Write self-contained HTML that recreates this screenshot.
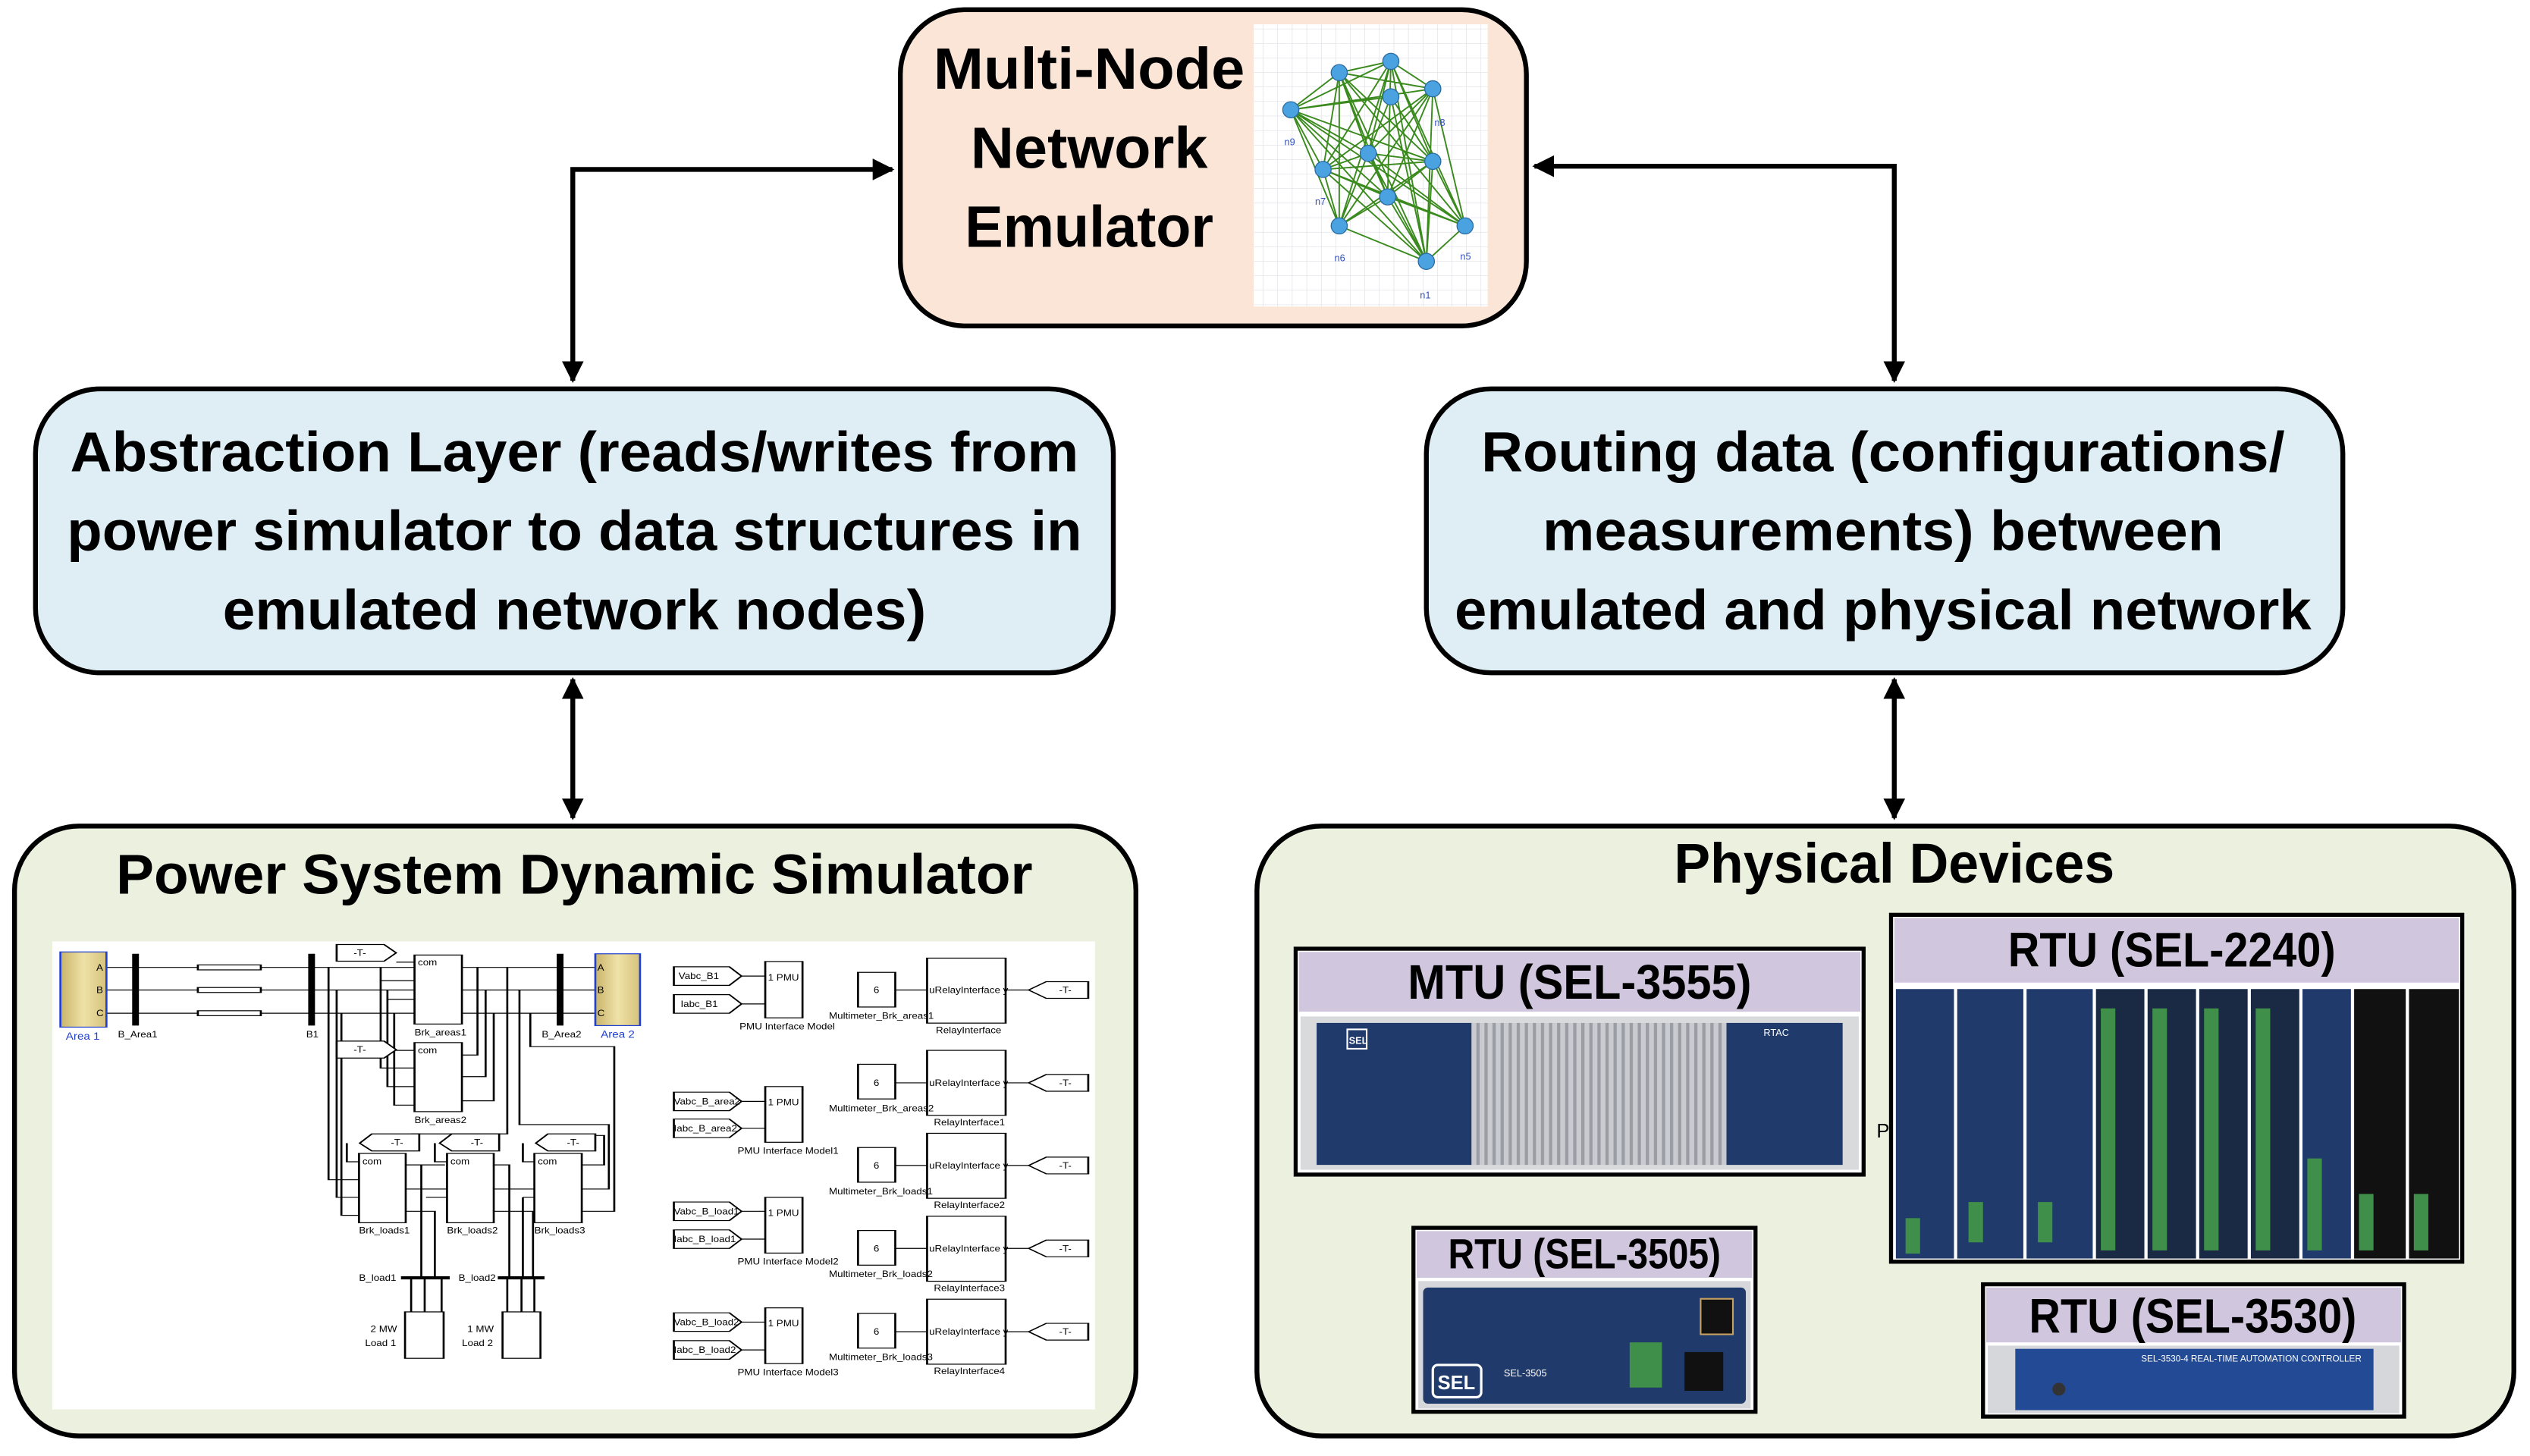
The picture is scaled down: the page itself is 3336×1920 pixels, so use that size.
<!DOCTYPE html>
<html><head><meta charset="utf-8"><style>html,body{margin:0;padding:0;background:#fff}svg{display:block}</style></head>
<body>
<svg width="3336" height="1920" viewBox="0 0 1568 902.4" xmlns="http://www.w3.org/2000/svg" font-family="Liberation Sans, sans-serif">
<defs>
<marker id="ah" viewBox="0 0 10 10" refX="9" refY="5" markerWidth="4.5" markerHeight="4.5" orient="auto-start-reverse"><path d="M0,0 L10,5 L0,10 z" fill="#000"/></marker>
<linearGradient id="gold" x1="0" y1="0" x2="1" y2="0"><stop offset="0" stop-color="#c9b46a"/><stop offset="0.5" stop-color="#efe2a8"/><stop offset="1" stop-color="#d6c27c"/></linearGradient>
<pattern id="grid" width="9" height="9" patternUnits="userSpaceOnUse"><path d="M9,0 V9 H0" fill="none" stroke="#d8d8e0" stroke-width="0.5"/></pattern>
<pattern id="fins" width="5" height="10" patternUnits="userSpaceOnUse"><rect width="5" height="10" fill="#c9cbd0"/><rect width="2" height="10" fill="#9a9da3"/></pattern>
</defs>
<rect width="1568" height="902.4" fill="#fff"/>

<!-- arrows -->
<g stroke="#000" stroke-width="3" fill="none">
<path d="M355,236 V105 H553" marker-start="url(#ah)" marker-end="url(#ah)"/>
<path d="M951,103 H1174 V236" marker-start="url(#ah)" marker-end="url(#ah)"/>
<path d="M355,421 V507" marker-start="url(#ah)" marker-end="url(#ah)"/>
<path d="M1174,421 V507" marker-start="url(#ah)" marker-end="url(#ah)"/>
</g>

<!-- top box -->
<rect x="558" y="6" width="388" height="196" rx="40" fill="#fbe5d6" stroke="#000" stroke-width="3"/>
<g font-weight="bold" font-size="36" text-anchor="middle" fill="#000">
<text x="675" y="55" textLength="193" lengthAdjust="spacingAndGlyphs">Multi-Node</text>
<text x="675" y="104" textLength="147" lengthAdjust="spacingAndGlyphs">Network</text>
<text x="675" y="153" textLength="154" lengthAdjust="spacingAndGlyphs">Emulator</text>
</g>
<rect x="777" y="15" width="145" height="175" fill="#fff"/>
<rect x="777" y="15" width="145" height="175" fill="url(#grid)"/>
<g stroke="#3a8a1e" stroke-width="0.9" fill="none">
<path d="M800,68 L830,45 L862,38 L888,55 L908,140 L884,162 L830,140 L820,105 L800,68 M800,68 L862,38 M800,68 L888,55 M800,68 L848,95 M800,68 L888,100 M800,68 L860,122 M800,68 L830,140 M800,68 L908,140 M800,68 L884,162 M830,45 L888,55 M830,45 L820,105 M830,45 L848,95 M830,45 L888,100 M830,45 L860,122 M830,45 L908,140 M830,45 L884,162 M830,45 L830,140 M862,38 L820,105 M862,38 L848,95 M862,38 L888,100 M862,38 L860,122 M862,38 L830,140 M862,38 L908,140 M862,38 L884,162 M888,55 L820,105 M888,55 L848,95 M888,55 L860,122 M888,55 L830,140 M888,55 L884,162 M820,105 L848,95 M820,105 L888,100 M820,105 L860,122 M820,105 L908,140 M820,105 L884,162 M848,95 L888,100 M848,95 L860,122 M848,95 L830,140 M848,95 L908,140 M848,95 L884,162 M888,100 L860,122 M888,100 L830,140 M888,100 L908,140 M888,100 L884,162 M860,122 L830,140 M860,122 L908,140 M860,122 L884,162 M830,140 L884,162 M862,60 L800,68 M862,60 L888,100 M862,60 L830,140 M862,60 L884,162"/>
</g>
<g fill="#4aa3e0" stroke="#2a6aa0" stroke-width="0.6">
<circle cx="800" cy="68" r="5"/><circle cx="830" cy="45" r="5"/><circle cx="862" cy="38" r="5"/><circle cx="888" cy="55" r="5"/><circle cx="820" cy="105" r="5"/><circle cx="848" cy="95" r="5"/><circle cx="888" cy="100" r="5"/><circle cx="860" cy="122" r="5"/><circle cx="830" cy="140" r="5"/><circle cx="908" cy="140" r="5"/><circle cx="884" cy="162" r="5"/><circle cx="862" cy="60" r="5"/>
</g>
<g font-size="6" fill="#3050c0"><text x="796" y="90">n9</text><text x="827" y="162">n6</text><text x="905" y="161">n5</text><text x="880" y="185">n1</text><text x="815" y="127">n7</text><text x="889" y="78">n8</text></g>

<!-- middle boxes -->
<rect x="22" y="241" width="668" height="176" rx="40" fill="#deeef4" stroke="#000" stroke-width="3"/>
<g font-weight="bold" font-size="35" text-anchor="middle">
<text x="356" y="292" textLength="625" lengthAdjust="spacingAndGlyphs">Abstraction Layer (reads/writes from</text>
<text x="356" y="341" textLength="629" lengthAdjust="spacingAndGlyphs">power simulator to data structures in</text>
<text x="356" y="390" textLength="436" lengthAdjust="spacingAndGlyphs">emulated network nodes)</text>
</g>
<rect x="884" y="241" width="568" height="176" rx="40" fill="#deeef4" stroke="#000" stroke-width="3"/>
<g font-weight="bold" font-size="35" text-anchor="middle">
<text x="1167" y="292" textLength="498" lengthAdjust="spacingAndGlyphs">Routing data (configurations/</text>
<text x="1167" y="341" textLength="422" lengthAdjust="spacingAndGlyphs">measurements) between</text>
<text x="1167" y="390" textLength="531" lengthAdjust="spacingAndGlyphs">emulated and physical network</text>
</g>

<!-- bottom boxes -->
<rect x="9" y="512" width="695" height="378" rx="40" fill="#ebf1de" stroke="#000" stroke-width="3"/>
<text x="356" y="554" font-weight="bold" font-size="35" text-anchor="middle" textLength="568" lengthAdjust="spacingAndGlyphs">Power System Dynamic Simulator</text>
<rect x="779" y="512" width="779" height="378" rx="40" fill="#ebf1de" stroke="#000" stroke-width="3"/>
<text x="1174" y="547" font-weight="bold" font-size="35" text-anchor="middle" textLength="273" lengthAdjust="spacingAndGlyphs">Physical Devices</text>

<!-- Simulink -->
<svg x="28.2" y="578.1" width="658" height="300.8" viewBox="0 0 1568 1568" preserveAspectRatio="none">
<rect x="10" y="28" width="1540" height="1512" fill="#fff"/>
<g stroke="#000" stroke-width="3" fill="none">
<path d="M90,112 H225 M318,112 H545 M90,185 H225 M318,185 H545 M90,260 H225 M318,260 H545"/>
<path d="M615,112 H812 M615,185 H812 M615,260 H812"/>
<rect x="225" y="104" width="93" height="16"/><rect x="225" y="177" width="93" height="16"/><rect x="225" y="252" width="93" height="16"/>
<path d="M418,112 V798 H463 M430,185 V855 H463 M437,260 V913 H463"/>
<path d="M495,112 V155 H545 M505,185 V215 H545 M515,260 V272"/>
<path d="M495,155 V437 H545 M505,215 V497 H545 M515,272 V557 H545"/>
<path d="M638,112 V395 H615 M650,185 V465 H615 M662,260 V543 H615"/>
<path d="M682,112 V650 H540 M700,185 V620 H832 V828 H792 M716,260 V368 H840 V900 H792"/>
<path d="M532,750 H590 M532,828 H593 M532,900 H575 V1115 M555,750 V1115 M562,855 H593 M662,750 H685 V1115 M662,828 H722 M662,900 H722 M705,855 H722 M705,855 V1115 M720,900 V1115"/>
<path d="M540,1115 V1225 M560,1115 V1225 M585,1115 V1225 M682,1115 V1225 M703,1115 V1225 M722,1115 V1225"/>
<path d="M518,95 H545 M518,380 H545 M445,680 V740 H463 M575,680 V740 H593 M705,680 V740 H722 M812,655 H825 V750 H792"/>
</g>
<g stroke="#000" stroke-width="10"><path d="M133,68 V300 M393,68 V300 M760,68 V300 M525,1115 H597 M668,1115 H737"/></g>
<rect x="22" y="62" width="68" height="243" fill="url(#gold)" stroke="#2040d0" stroke-width="3"/>
<rect x="812" y="68" width="66" height="232" fill="url(#gold)" stroke="#2040d0" stroke-width="3"/>
<g fill="#fff" stroke="#000" stroke-width="3">
<rect x="545" y="72" width="70" height="223"/><rect x="545" y="355" width="70" height="223"/>
<rect x="463" y="713" width="69" height="224"/><rect x="593" y="713" width="69" height="224"/><rect x="722" y="713" width="70" height="224"/>
<rect x="531" y="1225" width="57" height="150"/><rect x="675" y="1225" width="56" height="150"/>
<path d="M430,38 H500 L518,65 L500,92 H430 Z"/><path d="M430,350 H500 L518,378 L500,405 H430 Z"/>
<path d="M552,650 H482 L464,680 L482,705 H552 Z"/><path d="M670,650 H600 L582,680 L600,705 H670 Z"/><path d="M812,650 H742 L724,680 L742,705 H812 Z"/>
</g>
<g font-size="30" fill="#000" transform="scale(0.5,1)">
<text x="150" y="122">A</text><text x="150" y="195">B</text><text x="150" y="270">C</text>
<text x="1630" y="122">A</text><text x="1630" y="195">B</text><text x="1630" y="270">C</text>
<text x="60" y="345" fill="#2040d0" font-size="34">Area 1</text><text x="1640" y="340" fill="#2040d0" font-size="34">Area 2</text>
<text x="214" y="338">B_Area1</text><text x="770" y="338">B1</text><text x="1466" y="338">B_Area2</text>
<text x="1090" y="332">Brk_areas1</text><text x="1090" y="615">Brk_areas2</text>
<text x="926" y="972">Brk_loads1</text><text x="1186" y="972">Brk_loads2</text><text x="1444" y="972">Brk_loads3</text>
<text x="926" y="1125">B_load1</text><text x="1220" y="1125">B_load2</text>
<text x="960" y="1290">2 MW</text><text x="944" y="1335">Load 1</text><text x="1246" y="1290">1 MW</text><text x="1230" y="1335">Load 2</text>
<text x="910" y="75">-T-</text><text x="910" y="387">-T-</text><text x="1020" y="687">-T-</text><text x="1256" y="687">-T-</text><text x="1540" y="687">-T-</text>
<text x="1100" y="105">com</text><text x="1100" y="390">com</text><text x="936" y="748">com</text><text x="1196" y="748">com</text><text x="1454" y="748">com</text>
</g>
<!-- right side rows -->
<g stroke="#000" stroke-width="3" fill="#fff">
<path d="M928,110 H1010 L1028,140 L1010,170 H928 Z"/><path d="M928,200 H1010 L1028,230 L1010,260 H928 Z"/>
<path d="M928,515 H1010 L1028,545 L1010,575 H928 Z"/><path d="M928,602 H1010 L1028,632 L1010,662 H928 Z"/>
<path d="M928,870 H1010 L1028,900 L1010,930 H928 Z"/><path d="M928,960 H1010 L1028,990 L1010,1020 H928 Z"/>
<path d="M928,1228 H1010 L1028,1258 L1010,1288 H928 Z"/><path d="M928,1318 H1010 L1028,1348 L1010,1378 H928 Z"/>
<rect x="1063" y="93" width="55" height="182"/><rect x="1063" y="497" width="55" height="180"/><rect x="1063" y="855" width="55" height="180"/><rect x="1063" y="1212" width="55" height="180"/>
<rect x="1200" y="128" width="55" height="112"/><rect x="1200" y="425" width="55" height="112"/><rect x="1200" y="694" width="55" height="112"/><rect x="1200" y="962" width="55" height="112"/><rect x="1200" y="1230" width="55" height="112"/>
<rect x="1302" y="82" width="116" height="210"/><rect x="1302" y="380" width="116" height="210"/><rect x="1302" y="648" width="116" height="210"/><rect x="1302" y="916" width="116" height="210"/><rect x="1302" y="1184" width="116" height="210"/>
<path d="M1540,158 H1478 L1452,185 L1478,212 H1540 Z"/><path d="M1540,458 H1478 L1452,485 L1478,512 H1540 Z"/><path d="M1540,725 H1478 L1452,752 L1478,779 H1540 Z"/><path d="M1540,993 H1478 L1452,1020 L1478,1047 H1540 Z"/><path d="M1540,1262 H1478 L1452,1289 L1478,1316 H1540 Z"/>
</g>
<g stroke="#000" stroke-width="3"><path d="M1028,140 H1063 M1028,230 H1063 M1028,545 H1063 M1028,632 H1063 M1028,900 H1063 M1028,990 H1063 M1028,1258 H1063 M1028,1348 H1063 M1255,185 H1302 M1418,185 H1452 M1255,485 H1302 M1418,485 H1452 M1255,752 H1302 M1418,752 H1452 M1255,1020 H1302 M1418,1020 H1452 M1255,1289 H1302 M1418,1289 H1452"/></g>
<g font-size="30" fill="#000" transform="scale(0.5,1)">
<text x="1870" y="150">Vabc_B1</text><text x="1876" y="240">Iabc_B1</text>
<text x="1856" y="555">Vabc_B_area2</text><text x="1856" y="642">Iabc_B_area2</text>
<text x="1856" y="910">Vabc_B_load1</text><text x="1856" y="1000">Iabc_B_load1</text>
<text x="1856" y="1268">Vabc_B_load2</text><text x="1856" y="1358">Iabc_B_load2</text>
<text x="2134" y="155">1 PMU</text><text x="2134" y="557">1 PMU</text><text x="2134" y="915">1 PMU</text><text x="2134" y="1272">1 PMU</text>
<text x="2050" y="312">PMU Interface Model</text><text x="2044" y="714">PMU Interface Model1</text><text x="2044" y="1072">PMU Interface Model2</text><text x="2044" y="1430">PMU Interface Model3</text>
<text x="2446" y="195">6</text><text x="2446" y="495">6</text><text x="2446" y="762">6</text><text x="2446" y="1030">6</text><text x="2446" y="1299">6</text>
<text x="2610" y="195">uRelayInterface y</text><text x="2610" y="495">uRelayInterface y</text><text x="2610" y="762">uRelayInterface y</text><text x="2610" y="1030">uRelayInterface y</text><text x="2610" y="1299">uRelayInterface y</text>
<text x="2314" y="278">Multimeter_Brk_areas1</text><text x="2314" y="577">Multimeter_Brk_areas2</text><text x="2314" y="845">Multimeter_Brk_loads1</text><text x="2314" y="1113">Multimeter_Brk_loads2</text><text x="2314" y="1381">Multimeter_Brk_loads3</text>
<text x="2630" y="325">RelayInterface</text><text x="2624" y="622">RelayInterface1</text><text x="2624" y="890">RelayInterface2</text><text x="2624" y="1158">RelayInterface3</text><text x="2624" y="1426">RelayInterface4</text>
<text x="2994" y="195">-T-</text><text x="2994" y="495">-T-</text><text x="2994" y="762">-T-</text><text x="2994" y="1030">-T-</text><text x="2994" y="1299">-T-</text>
</g>
</svg>

<!-- MTU SEL-3555 -->
<rect x="803" y="588" width="352" height="140" fill="#fff" stroke="#000" stroke-width="2.5"/>
<rect x="805" y="590" width="348" height="37" fill="#d0c7df"/>
<text x="979" y="619" font-weight="bold" font-size="30" text-anchor="middle" textLength="213" lengthAdjust="spacingAndGlyphs">MTU (SEL-3555)</text>
<rect x="806" y="630" width="346" height="95" fill="#d8dadc"/>
<rect x="816" y="634" width="96" height="88" fill="#1f3a6b"/>
<rect x="912" y="634" width="158" height="88" fill="url(#fins)"/>
<rect x="1070" y="634" width="72" height="88" fill="#1f3a6b"/>
<rect x="835" y="638" width="12" height="12" fill="none" stroke="#fff" stroke-width="1"/><text x="836" y="647" font-size="6" fill="#fff" font-weight="bold">SEL</text>
<text x="1093" y="642" font-size="6" fill="#fff">RTAC</text>

<!-- RTU SEL-2240 -->
<rect x="1172" y="567" width="354" height="215" fill="#fff" stroke="#000" stroke-width="2.5"/>
<rect x="1174" y="569" width="350" height="40" fill="#d0c7df"/>
<text x="1346" y="599" font-weight="bold" font-size="30" text-anchor="middle" textLength="203" lengthAdjust="spacingAndGlyphs">RTU (SEL-2240)</text>
<g fill="#1f3a6b">
<rect x="1175" y="613" width="36" height="167"/><rect x="1213" y="613" width="41" height="167"/><rect x="1256" y="613" width="41" height="167"/>
<rect x="1299" y="613" width="30" height="167" fill="#1a2a45"/><rect x="1331" y="613" width="30" height="167" fill="#1a2a45"/><rect x="1363" y="613" width="30" height="167" fill="#1a2a45"/><rect x="1395" y="613" width="30" height="167" fill="#1a2a45"/>
<rect x="1427" y="613" width="30" height="167"/><rect x="1459" y="613" width="32" height="167" fill="#111"/><rect x="1493" y="613" width="31" height="167" fill="#111"/>
</g>
<g fill="#3f8f4a">
<rect x="1302" y="625" width="9" height="150"/><rect x="1334" y="625" width="9" height="150"/><rect x="1366" y="625" width="9" height="150"/><rect x="1398" y="625" width="9" height="150"/>
<rect x="1430" y="718" width="9" height="57"/><rect x="1462" y="740" width="9" height="35"/><rect x="1496" y="740" width="9" height="35"/>
<rect x="1181" y="755" width="9" height="22"/><rect x="1220" y="745" width="9" height="25"/><rect x="1263" y="745" width="9" height="25"/>
</g>
<text x="1163" y="705" font-size="12">P</text>

<!-- RTU SEL-3505 -->
<rect x="876" y="761" width="212" height="114" fill="#fff" stroke="#000" stroke-width="2.5"/>
<rect x="878" y="763" width="208" height="29" fill="#d0c7df"/>
<text x="982" y="786" font-weight="bold" font-size="26" text-anchor="middle" textLength="169" lengthAdjust="spacingAndGlyphs">RTU (SEL-3505)</text>
<rect x="879" y="794" width="206" height="79" fill="#d5d7da"/>
<rect x="882" y="798" width="200" height="72" rx="3" fill="#1f3a6b"/>
<rect x="888" y="846" width="30" height="20" rx="3" fill="none" stroke="#fff" stroke-width="1.5"/>
<text x="891" y="861" font-size="12" font-weight="bold" fill="#fff">SEL</text>
<text x="932" y="853" font-size="6" fill="#fff">SEL-3505</text>
<rect x="1010" y="832" width="20" height="28" fill="#3f8f4a"/>
<rect x="1044" y="838" width="24" height="24" fill="#111"/>
<rect x="1054" y="805" width="20" height="22" fill="#111" stroke="#c8a060"/>

<!-- RTU SEL-3530 -->
<rect x="1229" y="796" width="261" height="82" fill="#fff" stroke="#000" stroke-width="2.5"/>
<rect x="1231" y="798" width="257" height="34" fill="#d0c7df"/>
<text x="1359" y="826" font-weight="bold" font-size="30" text-anchor="middle" textLength="203" lengthAdjust="spacingAndGlyphs">RTU (SEL-3530)</text>
<rect x="1232" y="834" width="255" height="42" fill="#d5d7da"/>
<rect x="1249" y="836" width="222" height="38" fill="#234a94"/>
<text x="1327" y="844" font-size="5.5" fill="#fff">SEL-3530-4 REAL-TIME AUTOMATION CONTROLLER</text>
<circle cx="1276" cy="861" r="4" fill="#333"/>
</svg>
</body></html>
